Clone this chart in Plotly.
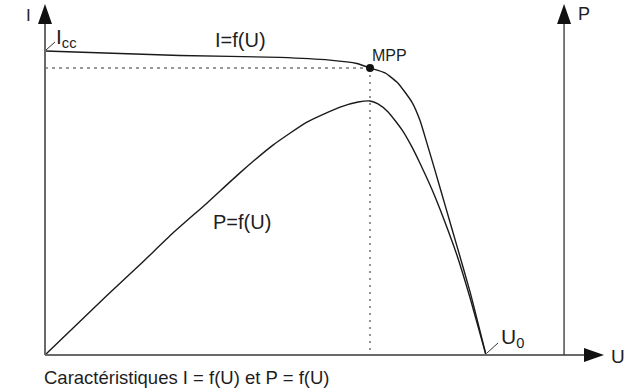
import plotly.graph_objects as go

# ---- data (normalised units: U0 = 1, Icc = 1) ----
U_I = [0.000, 0.170, 0.306, 0.533, 0.646, 0.707, 0.737, 0.771, 0.800, 0.832,
       0.850, 0.866, 0.884, 0.909, 0.934, 0.964, 1.000]
I_VALUES = [1.000, 0.992, 0.985, 0.979, 0.970, 0.959, 0.944, 0.928, 0.895, 0.832,
            0.773, 0.697, 0.609, 0.484, 0.359, 0.207, 0.000]

U_P = [0.000, 0.141, 0.215, 0.290, 0.367, 0.442, 0.517, 0.594, 0.669, 0.710,
       0.737, 0.755, 0.778, 0.810, 0.832, 0.850, 0.878, 0.907, 0.934, 0.964, 1.000]
P_VALUES = [0.000, 0.164, 0.247, 0.334, 0.416, 0.499, 0.575, 0.638, 0.679, 0.693,
            0.696, 0.688, 0.666, 0.616, 0.570, 0.526, 0.452, 0.364, 0.274, 0.156, 0.000]

U_MPP = 0.737
I_MPP = 0.944
U_P_AXIS = 1.177

LABELS = {
    "I": "I", "P": "P", "U": "U",
    "Icc": "I<sub>cc</sub>", "U0": "U<sub>0</sub>",
    "Icurve": "I=f(U)", "Pcurve": "P=f(U)", "MPP": "MPP",
    "caption": "Caractéristiques I = f(U) et P = f(U)",
}

X_RANGE = [-0.10204, 1.33333]
I_RANGE = [-0.11842, 1.16776]
P_RANGE = [-0.09863, 0.97260]

W, H = 633, 391
FONT = "Liberation Sans, Arial, Helvetica, sans-serif"
TXT = "#1e1e1e"
AXC = "#6a6a6a"


def pxd(xp, yp):
    """pixel -> data (U, I) for layout placement"""
    return (xp - 45) / 441.0, (355 - yp) / 304.0


fig = go.Figure()

fig.add_trace(go.Scatter(x=U_I, y=I_VALUES, mode="lines",
                         line=dict(color="#1a1a1a", width=1.4, shape="spline", smoothing=0.5),
                         hoverinfo="skip", showlegend=False))
fig.add_trace(go.Scatter(x=U_P, y=P_VALUES, mode="lines", yaxis="y2",
                         line=dict(color="#1a1a1a", width=1.4, shape="spline", smoothing=0.5),
                         hoverinfo="skip", showlegend=False))

# dotted guides
fig.add_trace(go.Scatter(x=[0, U_MPP], y=[I_MPP, I_MPP], mode="lines",
                         line=dict(color="#333333", width=1.2, dash="3px,4px"),
                         hoverinfo="skip", showlegend=False))
fig.add_trace(go.Scatter(x=[U_MPP, U_MPP], y=[I_MPP, 0], mode="lines",
                         line=dict(color="#888888", width=1.8, dash="2px,5px"),
                         hoverinfo="skip", showlegend=False))
fig.add_trace(go.Scatter(x=[U_MPP], y=[I_MPP], mode="markers",
                         marker=dict(color="#111111", size=8),
                         hoverinfo="skip", showlegend=False))

shapes = []
# axes lines
_, i_top = pxd(0, 24)
u_end, _ = pxd(584, 0)
shapes.append(dict(type="line", xref="x", yref="y", x0=0, y0=0, x1=0, y1=i_top,
                   line=dict(color=AXC, width=2)))
shapes.append(dict(type="line", xref="x", yref="y", x0=0, y0=0, x1=u_end, y1=0,
                   line=dict(color=AXC, width=2)))
shapes.append(dict(type="line", xref="x", yref="y", x0=U_P_AXIS, y0=0, x1=U_P_AXIS, y1=i_top,
                   line=dict(color="#333333", width=1.3)))
# arrow heads
for xa in (0, U_P_AXIS):
    shapes.append(dict(type="path", xref="x", yref="y", xsizemode="pixel", ysizemode="pixel",
                       xanchor=xa, yanchor=i_top, path="M-7,0 L7,0 L0,20 Z",
                       fillcolor="#111111", line=dict(width=0)))
shapes.append(dict(type="path", xref="x", yref="y", xsizemode="pixel", ysizemode="pixel",
                   xanchor=u_end, yanchor=0, path="M0,-7 L0,7 L20,0 Z",
                   fillcolor="#111111", line=dict(width=0)))
# leader lines
a0, b0 = pxd(46, 50)
a1, b1 = pxd(55, 42)
shapes.append(dict(type="line", xref="x", yref="y", x0=a0, y0=b0, x1=a1, y1=b1,
                   line=dict(color="#333333", width=1)))
a0, b0 = pxd(487, 353)
a1, b1 = pxd(498, 343)
shapes.append(dict(type="line", xref="x", yref="y", x0=a0, y0=b0, x1=a1, y1=b1,
                   line=dict(color="#333333", width=1)))

ann = []


def add_text(key, xp, yp, size, xanchor="left"):
    x, y = pxd(xp, yp)
    ann.append(dict(text=LABELS[key], x=x, y=y, xref="x", yref="y", showarrow=False,
                    xanchor=xanchor, yanchor="middle",
                    font=dict(family=FONT, size=size, color=TXT)))


add_text("I", 24, 15, 17)
add_text("P", 576, 14, 18)
add_text("U", 609, 356, 19)
add_text("Icc", 54, 38, 21)
add_text("U0", 499, 338, 21)
add_text("Icurve", 240, 40, 20, "center")
add_text("Pcurve", 242, 222, 20, "center")
add_text("MPP", 370, 55, 16)
add_text("caption", 42, 377, 18.5)

fig.update_layout(
    width=W, height=H,
    margin=dict(l=0, r=0, t=0, b=0),
    paper_bgcolor="white", plot_bgcolor="white",
    xaxis=dict(range=X_RANGE, visible=False, fixedrange=True),
    yaxis=dict(range=I_RANGE, visible=False, fixedrange=True),
    yaxis2=dict(range=P_RANGE, visible=False, overlaying="y", fixedrange=True),
    shapes=shapes, annotations=ann, showlegend=False,
)

fig.write_html("out.html", config={"displayModeBar": False},
               post_script="document.body.style.margin='0px';document.body.style.overflow='hidden';")
